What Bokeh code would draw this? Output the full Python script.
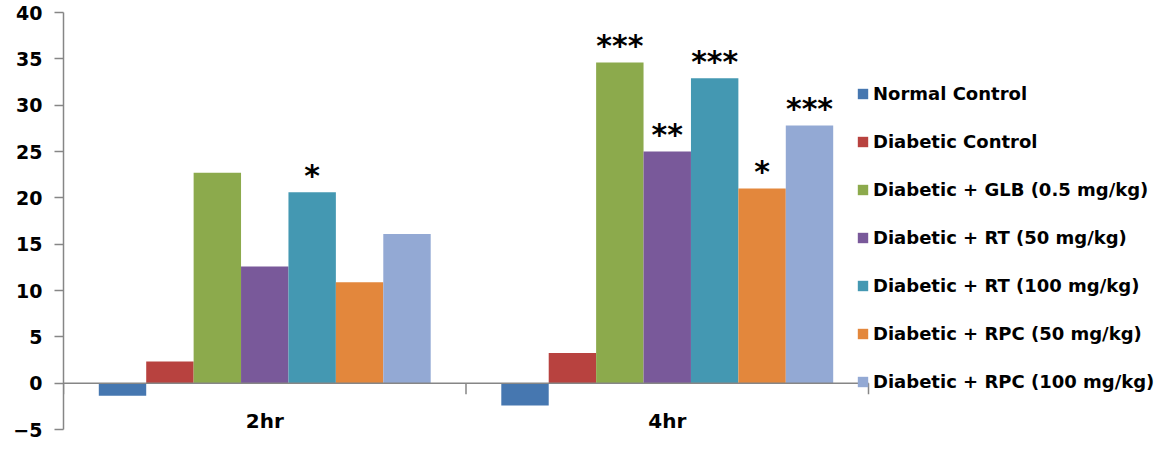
from bokeh.plotting import figure
from bokeh.models import ColumnDataSource, Range1d, Legend, LegendItem, LabelSet, FixedTicker
from bokeh.core.properties import value
from bokeh.embed import file_html
from bokeh.resources import INLINE
import math

# ---- data ----
times = ["2hr", "4hr"]
series_names = [
    "Normal Control",
    "Diabetic Control",
    "Diabetic + GLB (0.5 mg/kg)",
    "Diabetic + RT (50 mg/kg)",
    "Diabetic + RT (100 mg/kg)",
    "Diabetic + RPC (50 mg/kg)",
    "Diabetic + RPC (100 mg/kg)",
]
normal_control = [-1.35, -2.4]
diabetic_control = [2.35, 3.25]
glb_05 = [22.7, 34.6]
rt_50 = [12.6, 25.0]
rt_100 = [20.6, 32.9]
rpc_50 = [10.9, 21.0]
rpc_100 = [16.1, 27.8]

sig_normal = ["", ""]
sig_diabetic = ["", ""]
sig_glb = ["", "***"]
sig_rt50 = ["", "**"]
sig_rt100 = ["*", "***"]
sig_rpc50 = ["", "*"]
sig_rpc100 = ["", "***"]

y_ticks = [-5, 0, 5, 10, 15, 20, 25, 30, 35, 40]

colors = ["#4677B0", "#B8423F", "#8CAA4C", "#79599A", "#4498B2", "#E3873C", "#93A9D4"]

values = [normal_control, diabetic_control, glb_05, rt_50, rt_100, rpc_50, rpc_100]
sigs = [sig_normal, sig_diabetic, sig_glb, sig_rt50, sig_rt100, sig_rpc50, sig_rpc100]

# category centres on a numeric scale (one unit per category)
cat_x = [i + 0.5 for i in range(len(times))]
bw = 0.1178  # bar width as a fraction of one category

FONT = "DejaVu Sans"
CAT_PX = 402.5                     # pixels per category
FRAME_W = 1156 - 63
x_end = FRAME_W / CAT_PX           # extra room on the right for the legend

p = figure(
    x_range=Range1d(0, x_end),
    y_range=Range1d(-5, 40),
    frame_width=FRAME_W,
    frame_height=417,
    min_border_left=63,
    min_border_right=0,
    min_border_top=12,
    min_border_bottom=12,
    x_axis_location=None,
    output_backend="svg",
    toolbar_location=None,
    tools="",
)
p.outline_line_color = None
p.xgrid.grid_line_color = None
p.ygrid.grid_line_color = None
p.background_fill_color = "white"
p.border_fill_color = "white"

yax = p.yaxis[0]
yax.ticker = FixedTicker(ticks=y_ticks)
yax.axis_line_color = "#868686"
yax.axis_line_width = 1.5
yax.major_tick_line_color = "#868686"
yax.major_tick_line_width = 1.5
yax.major_tick_out = 9
yax.major_tick_in = 0
yax.minor_tick_line_color = None
yax.major_label_text_font = FONT
yax.major_label_text_font_style = "bold"
yax.major_label_text_font_size = "19px"
yax.major_label_text_color = "black"
yax.major_label_standoff = 12

items = []
for i, name in enumerate(series_names):
    off = (i - 3) * bw
    src = ColumnDataSource({
        "x": [c + off for c in cat_x],
        "v": values[i],
        "s": sigs[i],
    })
    r = p.vbar(x="x", top="v", bottom=0, width=bw, source=src,
               fill_color=colors[i], line_color=None)
    items.append(LegendItem(label=name, renderers=[r]))
    p.add_layout(LabelSet(x="x", y="v", text="s", source=src, text_align="center",
                          text_baseline="middle", y_offset=17, text_font=value(FONT),
                          text_font_style="bold", text_font_size="30px",
                          text_color="black"))

# horizontal axis line at zero across the categories
p.segment(x0=[0], y0=[0], x1=[len(times)], y1=[0], line_color="#868686", line_width=1.5)
# category boundary ticks
bounds = list(range(len(times) + 1))
p.ray(x=bounds, y=[0] * len(bounds), length=11, length_units="screen",
      angle=-math.pi / 2, line_color="#868686", line_width=1.5)
# category labels
cat_src = ColumnDataSource({"x": cat_x, "y": [0] * len(times), "t": times})
p.add_layout(LabelSet(x="x", y="y", text="t", source=cat_src, text_align="center",
                      text_baseline="middle", y_offset=-38, text_font=value(FONT),
                      text_font_style="bold", text_font_size="20px", text_color="black"))

legend = Legend(items=items, location=(793, 37), orientation="vertical")
legend.padding = 0
legend.margin = 0
legend.border_line_color = None
legend.background_fill_alpha = 0
legend.glyph_width = 13
legend.glyph_height = 13
legend.label_standoff = 4
legend.label_height = 22
legend.spacing = 26
legend.label_text_font = FONT
legend.label_text_font_style = "bold"
legend.label_text_font_size = "18px"
legend.label_text_color = "black"
p.add_layout(legend, "center")

open("out.html", "w").write(file_html(p, INLINE))
